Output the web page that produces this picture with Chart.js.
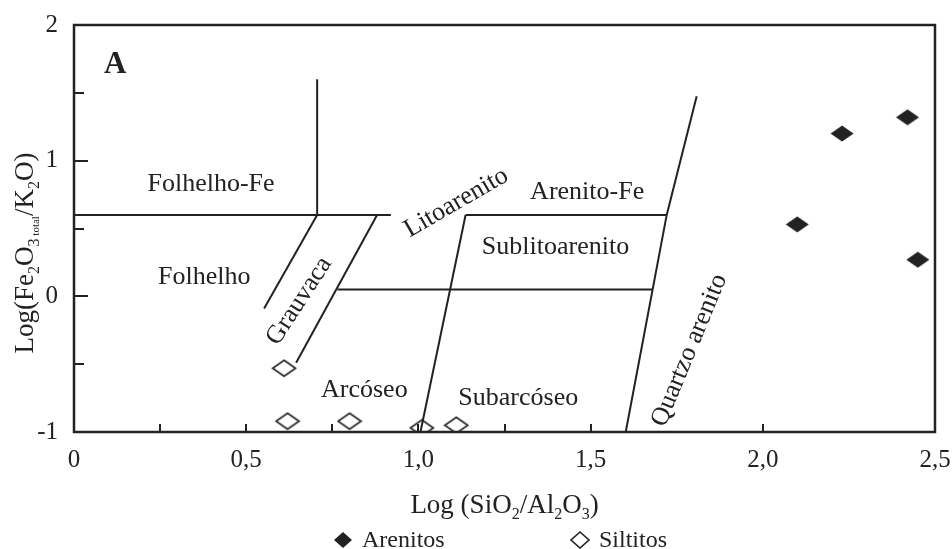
<!DOCTYPE html>
<html>
<head>
<meta charset="utf-8">
<script src="https://cdn.jsdelivr.net/npm/chart.js@4.4.1/dist/chart.umd.min.js"></script>
<style>
  html, body { margin: 0; padding: 0; background: #fff; }
  canvas { display: block; }
</style>
</head>
<body>
<canvas id="diagram" width="952" height="549"></canvas>
<script>
// Sample points
const arenitosX = [2.10, 2.23, 2.42, 2.45];
const arenitosY = [0.53, 1.20, 1.32, 0.27];
const siltitosX = [0.61, 0.62, 0.80, 1.01, 1.11];
const siltitosY = [-0.53, -0.92, -0.92, -0.97, -0.95];

// Classification boundaries (each entry is one polyline)
const boundaryX = [
    [0, 0.92],            // Folhelho-Fe / Folhelho
    [0.706, 0.706],       // Folhelho-Fe / Litoarenito
    [0.706, 0.552],       // Folhelho / Grauvaca
    [0.88, 0.645],        // Grauvaca / Arcoseo
    [0.765, 1.68],        // Sublitoarenito / Subarcoseo
    [1.137, 1.006],       // Litoarenito / Sublitoarenito
    [1.137, 1.721],       // Arenito-Fe / Sublitoarenito
    [1.602, 1.721, 1.808] // Quartzo arenito
];
const boundaryY = [
    [0.6, 0.6],
    [0.6, 1.6],
    [0.6, -0.09],
    [0.6, -0.49],
    [0.05, 0.05],
    [0.6, -1],
    [0.6, 0.6],
    [-1, 0.6, 1.474]
];

// Axis ticks
const xLabelTicks = [0, 0.5, 1, 1.5, 2, 2.5];
const xMarkTicks = [0.25, 0.5, 0.75, 1, 1.25, 1.5, 2];
const yLabelTicks = [-1, 0, 1, 2];
const yMarkTicks = [-0.5, 0, 0.5, 1, 1.5];

// Field names
const regionNames = ['Folhelho-Fe', 'Folhelho', 'Grauvaca', 'Litoarenito', 'Arenito-Fe',
    'Sublitoarenito', 'Arcóseo', 'Subarcóseo', 'Quartzo arenito'];
const regionX = [0.398, 0.378, 0.654, 1.11, 1.49, 1.398, 0.843, 1.29, 1.787];
const regionY = [0.825, 0.14, -0.035, 0.69, 0.77, 0.36, -0.693, -0.75, -0.398];
const regionAngle = [0, 0, -57, -30, 0, 0, 0, 0, -67.5];

const INK = '#222222';
const SERIF = '"Liberation Serif", "Times New Roman", serif';

// Flattened diamond markers like the original
const diamondImage = (filled) => {
    const c = document.createElement('canvas');
    c.width = 26; c.height = 19;
    const g = c.getContext('2d');
    g.beginPath();
    g.moveTo(13, 1.5); g.lineTo(24.5, 9.5); g.lineTo(13, 17.5); g.lineTo(1.5, 9.5);
    g.closePath();
    if (filled) {
        g.fillStyle = INK;
        g.fill();
    } else {
        g.strokeStyle = INK;
        g.lineWidth = 1.6;
        g.stroke();
    }
    return c;
};

const toPoints = (xs, ys) => xs.map((x, i) => ({ x, y: ys[i] }));

const datasets = boundaryX.map((xs, i) => ({
    label: 'boundary' + i,
    data: toPoints(xs, boundaryY[i]),
    showLine: true,
    borderColor: INK,
    borderWidth: 2,
    pointRadius: 0,
    order: 2
}));
datasets.push({
    label: 'Arenitos',
    data: toPoints(arenitosX, arenitosY),
    pointStyle: diamondImage(true),
    order: 1
});
datasets.push({
    label: 'Siltitos',
    data: toPoints(siltitosX, siltitosY),
    pointStyle: diamondImage(false),
    order: 1
});

// Draw text with subscripts; parts = [text, kind], kind n/s/t
const drawRich = (ctx, parts, cx, baseline, size) => {
    const spec = {
        n: [size, 0],
        s: [Math.round(size * 0.6), size * 0.24],
        t: [Math.round(size * 0.42), size * 0.24]
    };
    let total = 0;
    parts.forEach(([t, k]) => {
        ctx.font = spec[k][0] + 'px ' + SERIF;
        total += ctx.measureText(t).width;
    });
    let x = cx - total / 2;
    ctx.textAlign = 'left';
    ctx.textBaseline = 'alphabetic';
    parts.forEach(([t, k]) => {
        ctx.font = spec[k][0] + 'px ' + SERIF;
        ctx.fillText(t, x, baseline + spec[k][1]);
        x += ctx.measureText(t).width;
    });
};

const diagramDecor = {
    id: 'diagramDecor',
    afterDraw(chart) {
        const { ctx, chartArea: a, scales: { x, y } } = chart;
        ctx.save();
        ctx.strokeStyle = INK;
        ctx.fillStyle = INK;

        // inward tick marks
        ctx.lineWidth = 2;
        ctx.beginPath();
        xMarkTicks.forEach(v => {
            const px = Math.round(x.getPixelForValue(v));
            ctx.moveTo(px, a.bottom);
            ctx.lineTo(px, a.bottom - 8);
        });
        yMarkTicks.forEach(v => {
            const py = Math.round(y.getPixelForValue(v));
            const len = Number.isInteger(v) ? 14 : 10;
            ctx.moveTo(a.left, py);
            ctx.lineTo(a.left + len, py);
        });
        ctx.stroke();

        // frame
        ctx.lineWidth = 2.5;
        ctx.strokeRect(a.left, a.top, a.right - a.left, a.bottom - a.top);

        // panel letter
        ctx.font = 'bold 31px ' + SERIF;
        ctx.textAlign = 'left';
        ctx.textBaseline = 'alphabetic';
        ctx.fillText('A', 104, 73);

        // field names
        ctx.font = '26px ' + SERIF;
        ctx.textAlign = 'center';
        ctx.textBaseline = 'middle';
        regionNames.forEach((name, i) => {
            ctx.save();
            ctx.translate(x.getPixelForValue(regionX[i]), y.getPixelForValue(regionY[i]));
            ctx.rotate(regionAngle[i] * Math.PI / 180);
            ctx.fillText(name, 0, 0);
            ctx.restore();
        });

        // axis titles
        drawRich(ctx, [['Log (SiO', 'n'], ['2', 's'], ['/Al', 'n'], ['2', 's'], ['O', 'n'], ['3', 's'], [')', 'n']],
            (a.left + a.right) / 2, 513, 27);
        ctx.save();
        ctx.translate(33, 253);
        ctx.rotate(-Math.PI / 2);
        drawRich(ctx, [['Log(Fe', 'n'], ['2', 's'], ['O', 'n'], ['3', 's'], [' total', 't'], ['/K', 'n'], ['2', 's'], ['O)', 'n']],
            0, 0, 27);
        ctx.restore();

        // legend
        const legendY = 540;
        const legend = [[343, 'Arenitos', true], [580, 'Siltitos', false]];
        ctx.font = '24px ' + SERIF;
        ctx.textAlign = 'left';
        ctx.textBaseline = 'middle';
        legend.forEach(([lx, text, filled]) => {
            ctx.beginPath();
            ctx.moveTo(lx, legendY - 8);
            ctx.lineTo(lx + 9, legendY);
            ctx.lineTo(lx, legendY + 8);
            ctx.lineTo(lx - 9, legendY);
            ctx.closePath();
            if (filled) {
                ctx.fill();
            } else {
                ctx.lineWidth = 1.6;
                ctx.stroke();
            }
            ctx.fillText(text, lx + 19, legendY + 1);
        });
        ctx.restore();
    }
};

const tickFont = { family: SERIF, size: 25 };

new Chart(document.getElementById('diagram'), {
    type: 'scatter',
    data: { datasets },
    options: {
        responsive: false,
        animation: false,
        devicePixelRatio: 1,
        layout: { padding: { top: 25, right: 17, left: 0, bottom: 0 } },
        plugins: {
            legend: { display: false },
            tooltip: { enabled: false }
        },
        scales: {
            x: {
                type: 'linear',
                min: 0,
                max: 2.5,
                grid: { display: false, drawTicks: false },
                border: { display: false },
                afterBuildTicks: s => { s.ticks = xLabelTicks.map(value => ({ value })); },
                afterFit: s => {
                    s.height = 117;
                    s.paddingLeft = 0;
                    s.paddingRight = 0;
                },
                ticks: {
                    padding: 13,
                    color: INK,
                    font: tickFont,
                    maxRotation: 0,
                    autoSkip: false,
                    callback: v => v === 0 ? '0' : v.toFixed(1).replace('.', ',')
                }
            },
            y: {
                type: 'linear',
                min: -1,
                max: 2,
                grid: { display: false, drawTicks: false },
                border: { display: false },
                afterBuildTicks: s => { s.ticks = yLabelTicks.map(value => ({ value })); },
                afterFit: s => {
                    s.width = 74;
                    s.paddingTop = 0;
                    s.paddingBottom = 0;
                },
                ticks: {
                    padding: 16,
                    color: INK,
                    font: tickFont,
                    autoSkip: false,
                    callback: v => String(v)
                }
            }
        }
    },
    plugins: [diagramDecor]
});
</script>
</body>
</html>
